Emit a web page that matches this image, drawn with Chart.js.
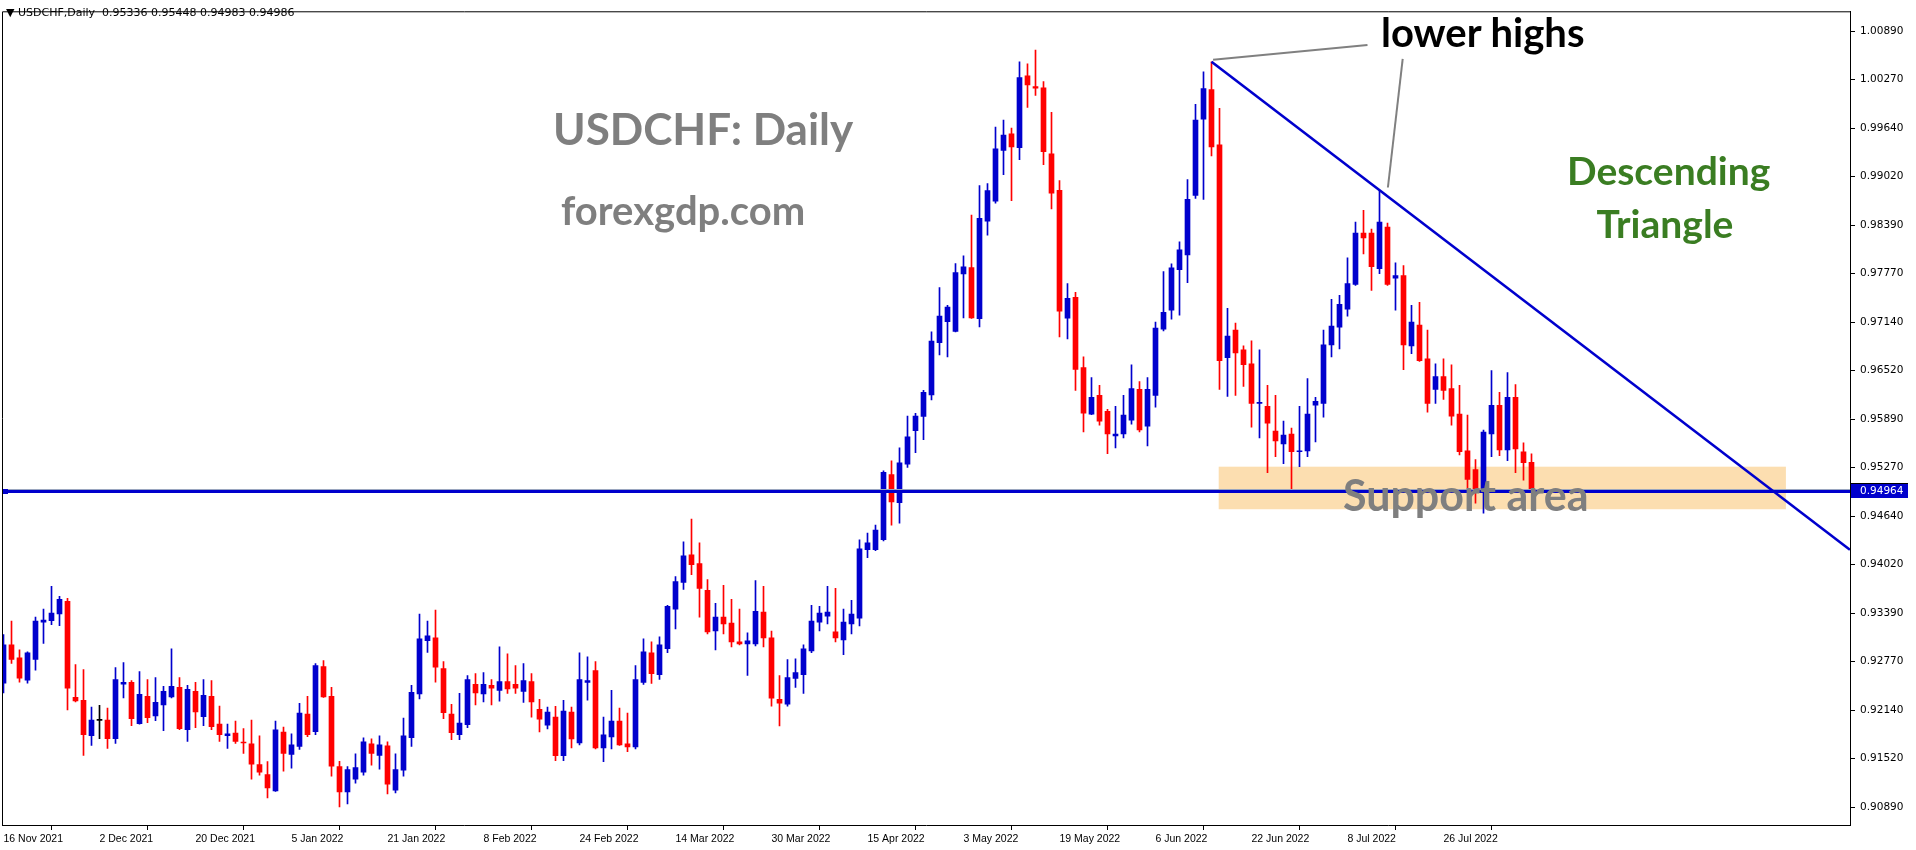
<!DOCTYPE html>
<html><head><meta charset="utf-8">
<script src="https://cdn.jsdelivr.net/npm/chart.js@4.4.1/dist/chart.umd.min.js"></script>
<style>
html,body{margin:0;padding:0;background:#fff;overflow:hidden}
#wrap{position:relative;width:1916px;height:850px}
canvas{position:absolute;left:0;top:0}
.ann{position:absolute;font-family:Lato,'Open Sans',sans-serif;font-weight:700;line-height:1;white-space:nowrap}
#hdr{position:absolute;left:6px;top:6px;font:11px 'DejaVu Sans',sans-serif;white-space:pre;color:#000;line-height:14px}
</style></head>
<body><div id="wrap"><canvas id="c" width="1916" height="850"></canvas>
<div id="hdr">▼ USDCHF,Daily  0.95336 0.95448 0.94983 0.94986</div>
<div class="ann" style="left:553px;top:106px;font-size:44px;color:#7f7f7f">USDCHF: Daily</div>
<div class="ann" style="left:561px;top:190px;font-size:40px;color:#7f7f7f">forexgdp.com</div>
<div class="ann" style="left:1381px;top:12px;font-size:40px;color:#000">lower highs</div>
<div class="ann" style="left:1567px;top:151px;font-size:39px;color:#3a7d22;width:200px;text-align:center">Descending</div>
<div class="ann" style="left:1565px;top:204px;font-size:39px;color:#3a7d22;width:200px;text-align:center">Triangle</div>
<div class="ann" style="left:1343px;top:473px;font-size:43px;color:#7f7f7f">Support area</div>
</div>
<script>
const opens = [
0.92494,0.92987,0.92821,0.92532,0.92800,0.93280,0.93297,0.93386,0.93548,0.92311,0.92273,0.91818,
0.92014,0.92018,0.91780,0.92481,0.92503,0.91971,0.92324,0.92073,0.92214,0.92316,0.92439,0.91895,
0.92388,0.92061,0.92324,0.91967,0.91818,0.91852,0.91735,0.91712,0.91445,0.91317,0.91105,0.91865,
0.91576,0.91678,0.92095,0.91869,0.92707,0.92324,0.91419,0.91092,0.91258,0.91347,0.91712,0.91564,
0.91687,0.91117,0.91372,0.91793,0.92354,0.93042,0.93076,0.92681,0.92095,0.91831,0.91959,0.92477,
0.92354,0.92464,0.92400,0.92515,0.92477,0.92388,0.92515,0.92158,0.91954,0.92056,0.91559,0.92120,
0.91725,0.92502,0.92655,0.91661,0.91801,0.92005,0.91712,0.91674,0.92502,0.92885,0.92604,0.92936,
0.93446,0.93790,0.94147,0.94032,0.93688,0.93165,0.93344,0.93267,0.93025,0.93000,0.93000,0.93408,
0.93076,0.92286,0.92222,0.92553,0.92604,0.92910,0.93280,0.93357,0.93153,0.93051,0.93255,0.93331,
0.94211,0.94211,0.94341,0.95178,0.94816,0.95312,0.95744,0.95927,0.96205,0.96879,0.97147,0.97023,
0.97762,0.97846,0.97186,0.98441,0.98699,0.99353,0.99566,0.99388,1.00315,1.00176,1.00161,0.99309,
0.98838,0.97193,0.97461,0.96556,0.95957,0.96199,0.95995,0.95677,0.95702,0.95880,0.96276,0.95804,
0.96199,0.97053,0.97295,0.97818,0.98009,0.98774,0.99756,1.00138,0.99424,0.96684,0.97040,0.96786,
0.96607,0.96097,0.96059,0.95740,0.95575,0.95702,0.95473,0.95485,0.96072,0.96097,0.96849,0.97079,
0.97308,0.97627,0.98290,0.98290,0.97831,0.98366,0.97707,0.97742,0.96837,0.97104,0.96671,0.96276,
0.96441,0.96288,0.95957,0.95485,0.95243,0.94954,0.95702,0.96072,0.95498,0.96174,0.95473,0.95336];
const highs = [
0.93119,0.93293,0.92923,0.92898,0.93344,0.93446,0.93739,0.93612,0.93586,0.92732,0.92668,0.92184,
0.92209,0.92171,0.92694,0.92757,0.92528,0.92643,0.92541,0.92566,0.92452,0.92936,0.92566,0.92464,
0.92503,0.92541,0.92528,0.92197,0.91967,0.92005,0.91908,0.92018,0.91814,0.91483,0.92005,0.91929,
0.91840,0.92235,0.92324,0.92745,0.92783,0.92439,0.91487,0.91419,0.91585,0.91789,0.91776,0.91814,
0.91738,0.91585,0.92044,0.92464,0.93382,0.93293,0.93433,0.92770,0.92222,0.92362,0.92592,0.92617,
0.92630,0.92541,0.92961,0.92872,0.92719,0.92745,0.92617,0.92286,0.92184,0.92196,0.92273,0.92184,
0.92885,0.92834,0.92770,0.92056,0.92400,0.92171,0.92107,0.92719,0.93063,0.93025,0.93089,0.93497,
0.93866,0.94313,0.94606,0.94300,0.93828,0.93522,0.93752,0.93573,0.93446,0.93140,0.93815,0.93739,
0.93165,0.92592,0.92796,0.92808,0.92987,0.93497,0.93484,0.93739,0.93713,0.93446,0.93561,0.94338,
0.94427,0.94529,0.95228,0.95357,0.95525,0.95932,0.95967,0.96264,0.97018,0.97588,0.97360,0.97895,
0.97995,0.98520,0.98902,0.98927,0.99655,0.99745,0.99641,1.00493,1.00469,1.00647,1.00240,0.99845,
0.98965,0.97639,0.97525,0.96696,0.96429,0.96327,0.96021,0.96059,0.96199,0.96594,0.96378,0.96429,
0.97142,0.97792,0.97894,0.98175,0.98978,0.99947,1.00367,1.00495,0.99896,0.97321,0.97130,0.96837,
0.96900,0.96786,0.96327,0.96199,0.95868,0.95779,0.96059,0.96416,0.96174,0.97040,0.97436,0.97487,
0.97971,0.98430,0.98583,0.98341,0.98838,0.98417,0.97907,0.97869,0.97359,0.97397,0.97040,0.96607,
0.96671,0.96594,0.96327,0.95944,0.95371,0.95753,0.96518,0.96237,0.96492,0.96339,0.95587,0.95448];
const lows = [
0.92367,0.92749,0.92507,0.92494,0.92660,0.93004,0.93246,0.93233,0.92150,0.92252,0.91564,0.91691,
0.91780,0.91653,0.91716,0.92303,0.91946,0.91965,0.91984,0.92010,0.91882,0.92303,0.91895,0.91742,
0.91920,0.91946,0.91895,0.91742,0.91653,0.91716,0.91589,0.91258,0.91309,0.91015,0.91100,0.91360,
0.91398,0.91640,0.91806,0.91831,0.92310,0.91296,0.90901,0.90939,0.91207,0.91309,0.91436,0.91385,
0.91066,0.91079,0.91296,0.91678,0.92290,0.92889,0.92507,0.92035,0.91767,0.91767,0.91920,0.92214,
0.92252,0.92214,0.92260,0.92362,0.92362,0.92247,0.92056,0.91865,0.91903,0.91495,0.91495,0.91661,
0.91699,0.92273,0.91648,0.91483,0.91648,0.91693,0.91610,0.91648,0.92477,0.92490,0.92541,0.92885,
0.93191,0.93701,0.93892,0.93344,0.93127,0.92923,0.93127,0.92961,0.92987,0.92592,0.92974,0.92961,
0.92197,0.91942,0.92197,0.92439,0.92362,0.92885,0.93165,0.93255,0.93025,0.92859,0.93127,0.93229,
0.94109,0.94198,0.94326,0.94529,0.94554,0.95273,0.95461,0.95630,0.96140,0.96720,0.96696,0.97015,
0.97196,0.97190,0.97082,0.98262,0.98674,0.99041,0.98708,0.99234,0.99908,1.00062,0.99170,0.98600,
0.96951,0.96926,0.96263,0.95728,0.95950,0.95817,0.95447,0.95524,0.95651,0.95830,0.95728,0.95549,
0.96046,0.97028,0.97181,0.97232,0.97652,0.98736,0.98723,0.99284,0.96276,0.96186,0.96199,0.96314,
0.95791,0.95651,0.95205,0.95409,0.95320,0.94980,0.95281,0.95409,0.95600,0.95919,0.96696,0.96798,
0.97219,0.97614,0.98022,0.97550,0.97767,0.97614,0.97295,0.96530,0.96735,0.96637,0.95982,0.96097,
0.96148,0.95817,0.95434,0.95001,0.94810,0.94682,0.95409,0.95422,0.95358,0.95205,0.95107,0.94983];
const closes = [
0.92987,0.92800,0.92558,0.92885,0.93293,0.93306,0.93395,0.93573,0.92430,0.92265,0.91831,0.92018,
0.92014,0.91780,0.92541,0.92503,0.92035,0.92350,0.92048,0.92248,0.92388,0.92452,0.91908,0.92413,
0.92124,0.92337,0.91933,0.91831,0.91840,0.91742,0.91723,0.91449,0.91347,0.91143,0.91891,0.91589,
0.91700,0.92107,0.91831,0.92719,0.92316,0.91423,0.91092,0.91381,0.91406,0.91738,0.91589,0.91700,
0.91194,0.91381,0.91814,0.92375,0.93063,0.93102,0.92698,0.92112,0.91857,0.91980,0.92541,0.92367,
0.92477,0.92430,0.92515,0.92418,0.92430,0.92528,0.92252,0.92031,0.92120,0.91559,0.92133,0.91776,
0.92541,0.92528,0.91661,0.91827,0.92005,0.91699,0.91674,0.92541,0.92898,0.92617,0.92987,0.93484,
0.93803,0.94134,0.94019,0.93713,0.93153,0.93344,0.93255,0.93025,0.93000,0.93038,0.93420,0.93076,
0.92299,0.92235,0.92566,0.92630,0.92936,0.93293,0.93395,0.93408,0.93076,0.93280,0.93382,0.94223,
0.94300,0.94466,0.95208,0.94826,0.95332,0.95664,0.95932,0.96239,0.96899,0.97221,0.97335,0.97781,
0.97856,0.97196,0.98480,0.98837,0.99373,0.99551,0.99398,1.00290,1.00196,1.00156,0.99338,0.98804,
0.97283,0.97448,0.96535,0.95970,0.96174,0.95868,0.95702,0.95702,0.95944,0.96288,0.95753,0.96276,
0.97066,0.97270,0.97843,0.98073,0.98723,0.99743,1.00151,0.99399,0.96645,0.96964,0.96747,0.96594,
0.96097,0.96110,0.95842,0.95613,0.95689,0.95473,0.95485,0.95957,0.96123,0.96849,0.97091,0.97372,
0.97640,0.98290,0.98226,0.97856,0.98430,0.97627,0.97742,0.96849,0.97142,0.96645,0.96097,0.96441,
0.96263,0.95931,0.95473,0.95116,0.94954,0.95728,0.96072,0.95498,0.96174,0.95511,0.95332,0.94986];

const xTickLabels = ['16 Nov 2021','2 Dec 2021','20 Dec 2021','5 Jan 2022','21 Jan 2022','8 Feb 2022',
  '24 Feb 2022','14 Mar 2022','30 Mar 2022','15 Apr 2022','3 May 2022','19 May 2022','6 Jun 2022',
  '22 Jun 2022','8 Jul 2022','26 Jul 2022'];
const yTickValues = [1.00890,1.00270,0.99640,0.99020,0.98390,0.97770,0.97140,0.96520,0.95890,
  0.95270,0.94640,0.94020,0.93390,0.92770,0.92140,0.91520,0.90890];
const supportLevel = 0.94964;
const supportZoneBars = [151.9, 222.8];
const supportZonePrices = [0.95281, 0.94733];
const trendBars = [151, 230.8];
const trendPrices = [1.00495, 0.94211];
const pointerA_Bars = [151.2, 170.5];
const pointerA_Prices = [1.00520, 1.00712];
const pointerB_Bars = [174.9, 173.05];
const pointerB_Prices = [1.00533, 0.98876];

// trading-day categories (weekdays from the first bar)
const months = ['Jan','Feb','Mar','Apr','May','Jun','Jul','Aug','Sep','Oct','Nov','Dec'];
const dates = [];
{ const d = new Date(Date.UTC(2021,10,16));
  while (dates.length < opens.length) {
    const wd = d.getUTCDay();
    if (wd !== 0 && wd !== 6) dates.push(d.getUTCDate()+' '+months[d.getUTCMonth()]+' '+d.getUTCFullYear());
    d.setUTCDate(d.getUTCDate()+1);
  }
}
const xTickIndex = xTickLabels.map(l => dates.indexOf(l));

const BLUE = '#0000CD', RED = '#FF0000';
const colors = opens.map((o,i) => closes[i] > o ? BLUE : (closes[i] < o ? RED : '#000000'));
const bodyData = opens.map((o,i) => ({x:i, y:[o, closes[i]]}));
const wickData = opens.map((o,i) => ({x:i, y:[lows[i], highs[i]]}));

const overlay = {
  id:'overlay',
  beforeDatasetsDraw(chart){
    const {ctx, scales:{x,y}} = chart;
    ctx.save();
    ctx.fillStyle = '#FCDEB0';
    const x0 = x.getPixelForValue(supportZoneBars[0]), x1 = x.getPixelForValue(supportZoneBars[1]);
    const y0 = y.getPixelForValue(supportZonePrices[0]), y1 = y.getPixelForValue(supportZonePrices[1]);
    ctx.fillRect(x0, y0, x1-x0, y1-y0);
    ctx.restore();
  },
  afterDatasetsDraw(chart){
    const {ctx, chartArea:a, scales:{x,y}} = chart;
    ctx.save();
    ctx.beginPath(); ctx.rect(a.left, a.top, a.right-a.left, a.bottom-a.top); ctx.clip();
    const ys = y.getPixelForValue(supportLevel);
    ctx.strokeStyle = '#9aa6bf'; ctx.lineWidth = 1;
    ctx.beginPath(); ctx.moveTo(a.left, Math.round(ys)-1.5); ctx.lineTo(a.right, Math.round(ys)-1.5); ctx.stroke();
    ctx.strokeStyle = BLUE; ctx.lineWidth = 3;
    ctx.beginPath(); ctx.moveTo(a.left, Math.round(ys)+0.5); ctx.lineTo(a.right, Math.round(ys)+0.5); ctx.stroke();
    ctx.fillStyle = BLUE;
    ctx.fillRect(a.left+1, Math.round(ys)-2, 5, 5);
    ctx.strokeStyle = BLUE; ctx.lineWidth = 2.6;
    ctx.beginPath();
    ctx.moveTo(x.getPixelForValue(trendBars[0]), y.getPixelForValue(trendPrices[0]));
    ctx.lineTo(x.getPixelForValue(trendBars[1]), y.getPixelForValue(trendPrices[1]));
    ctx.stroke();
    ctx.strokeStyle = '#808080'; ctx.lineWidth = 2;
    [[pointerA_Bars,pointerA_Prices],[pointerB_Bars,pointerB_Prices]].forEach(([b,p])=>{
      ctx.beginPath();
      ctx.moveTo(x.getPixelForValue(b[0]), y.getPixelForValue(p[0]));
      ctx.lineTo(x.getPixelForValue(b[1]), y.getPixelForValue(p[1]));
      ctx.stroke();
    });
    ctx.restore();
    ctx.save();
    ctx.strokeStyle = '#000'; ctx.lineWidth = 1;
    ctx.beginPath();
    ctx.moveTo(a.left+0.5, a.bottom); ctx.lineTo(a.left+0.5, a.top+0.5); ctx.lineTo(a.right, a.top+0.5);
    ctx.stroke();
    ctx.fillStyle = BLUE;
    ctx.fillRect(a.right+1, Math.round(ys)-7, 57, 14);
    ctx.fillStyle = '#000';
    ctx.fillRect(a.right+1, Math.round(ys)-8, 57, 1);
    ctx.fillStyle = '#fff';
    ctx.font = '10.5px "DejaVu Sans"';
    ctx.textBaseline = 'middle'; ctx.textAlign = 'left';
    ctx.fillText(supportLevel.toFixed(5), a.right+10, Math.round(ys));
    ctx.restore();
  }
};

new Chart(document.getElementById('c').getContext('2d'), {
  type:'bar',
  data:{ datasets:[
    {label:'body', data:bodyData, backgroundColor:colors, barThickness:5, minBarLength:1, grouped:false, order:0, borderWidth:0},
    {label:'wick', data:wickData, backgroundColor:colors, barThickness:1, grouped:false, order:1, borderWidth:0}
  ]},
  options:{
    responsive:false, animation:false, devicePixelRatio:1,
    layout:{padding:{left:2, top:3, right:0, bottom:0}},
    plugins:{legend:{display:false}, tooltip:{enabled:false}},
    scales:{
      x:{type:'linear', min:-0.1875, max:230.8125, offset:false, position:'bottom',
        afterBuildTicks(s){ s.ticks = xTickIndex.map(v => ({value:v})); },
        afterFit(s){ s.height = 25; },
        grid:{display:true, drawOnChartArea:false, drawTicks:true, tickLength:5, color:'#000'},
        border:{display:true, color:'#000', width:1},
        ticks:{autoSkip:false, maxRotation:0, minRotation:0, align:'start', padding:3, color:'#000',
          font:{family:'Liberation Sans', size:10.5}, callback:(v) => dates[v]}
      },
      y:{position:'right', min:0.906670, max:1.011449,
        afterBuildTicks(s){ s.ticks = yTickValues.map(v => ({value:v})); },
        afterFit(s){ s.width = 66; },
        grid:{display:true, drawOnChartArea:false, drawTicks:true, tickLength:5, color:'#000'},
        border:{display:true, color:'#000', width:1},
        ticks:{padding:5, color:'#000', font:{family:'DejaVu Sans', size:10.5}, callback:(v) => Number(v).toFixed(5)}
      }
    }
  },
  plugins:[overlay]
});
</script>
</body></html>
